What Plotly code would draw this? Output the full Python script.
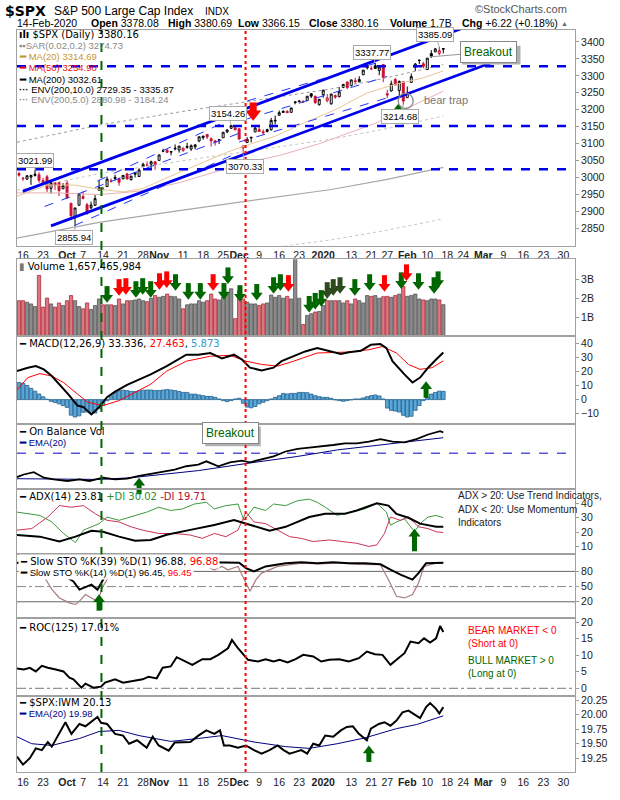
import plotly.graph_objects as go

# ---------------- data ----------------
month_days = [
    ("2019-09", [13, 16, 17, 18, 19, 20, 23, 24, 25, 26, 27, 30]),
    ("2019-10", [1, 2, 3, 4, 7, 8, 9, 10, 11, 14, 15, 16, 17, 18, 21, 22, 23, 24, 25, 28, 29, 30, 31]),
    ("2019-11", [1, 4, 5, 6, 7, 8, 11, 12, 13, 14, 15, 18, 19, 20, 21, 22, 25, 26, 27, 29]),
    ("2019-12", [2, 3, 4, 5, 6, 9, 10, 11, 12, 13, 16, 17, 18, 19, 20, 23, 24, 26, 27, 30, 31]),
    ("2020-01", [2, 3, 6, 7, 8, 9, 10, 13, 14, 15, 16, 17, 21, 22, 23, 24, 27, 28, 29, 30, 31]),
    ("2020-02", [3, 4, 5, 6, 7, 10, 11, 12, 13, 14]),
]
dates = [f"{m}-{d:02d}" for m, ds in month_days for d in ds]

opens = [3012.21, 2996.41, 2995.67, 3001.50, 3010.36, 3008.42, 2983.50, 3002.43, 2968.35, 2985.73, 2985.47, 2967.07,
         2983.69, 2924.78, 2885.38, 2918.56, 2944.23, 2920.40, 2911.10, 2918.55, 2963.07, 2965.81, 2973.61, 2989.68,
         3000.77, 2996.84, 2996.48, 3010.73, 2994.01, 3014.78, 3003.32, 3032.12, 3035.39, 3039.74, 3046.90,
         3050.72, 3078.96, 3080.80, 3075.10, 3087.02, 3081.25, 3080.33, 3089.28, 3084.18, 3090.75, 3107.92, 3117.91,
         3127.45, 3114.66, 3108.49, 3111.41, 3117.44, 3134.85, 3145.49, 3147.18,
         3143.85, 3087.41, 3103.50, 3119.21, 3134.62, 3141.86, 3135.36, 3135.75, 3141.23, 3166.65, 3183.63, 3195.40,
         3195.21, 3192.32, 3223.33, 3226.05, 3225.45, 3227.20, 3247.23, 3240.09, 3215.18,
         3244.67, 3226.36, 3217.55, 3241.86, 3238.59, 3266.03, 3281.81, 3271.13, 3285.35, 3282.27, 3302.97, 3323.66,
         3321.03, 3330.02, 3315.77, 3333.10, 3247.16, 3255.35, 3289.46, 3256.45, 3282.33,
         3235.66, 3280.61, 3324.91, 3344.92, 3335.54, 3318.28, 3365.87, 3370.50, 3365.90, 3378.08]
highs = [3017.33, 3002.19, 3006.21, 3007.83, 3021.99, 3016.37, 2999.15, 3007.98, 2989.82, 2987.28, 2987.31, 2983.85,
         2992.53, 2924.78, 2911.13, 2952.86, 2959.75, 2925.47, 2929.32, 2948.46, 2993.28, 2972.84, 3003.28, 2997.54,
         3008.29, 3000.00, 3007.33, 3014.57, 3004.78, 3016.07, 3027.39, 3044.08, 3047.87, 3050.10, 3046.90,
         3066.95, 3085.20, 3083.95, 3078.34, 3097.77, 3093.09, 3088.33, 3102.61, 3098.06, 3098.20, 3120.46, 3124.17,
         3127.64, 3118.97, 3110.11, 3112.87, 3133.83, 3142.69, 3154.26, 3150.30,
         3144.31, 3094.97, 3119.38, 3119.45, 3150.60, 3148.87, 3142.12, 3143.98, 3176.28, 3182.68, 3197.71, 3198.22,
         3198.48, 3205.48, 3225.65, 3227.78, 3226.43, 3240.08, 3247.93, 3240.92, 3231.72,
         3258.14, 3246.15, 3246.84, 3244.91, 3267.07, 3275.58, 3282.99, 3288.13, 3294.25, 3298.66, 3317.11, 3329.88,
         3329.79, 3337.77, 3326.88, 3333.18, 3258.85, 3285.78, 3293.47, 3285.91, 3282.33,
         3268.44, 3306.92, 3337.58, 3347.96, 3341.42, 3352.26, 3375.63, 3381.47, 3385.09, 3380.69]
lows = [3002.90, 2990.67, 2993.73, 2978.57, 3003.16, 2984.68, 2982.23, 2957.73, 2952.86, 2963.71, 2945.53, 2967.07,
        2938.70, 2874.93, 2855.94, 2918.56, 2935.68, 2892.66, 2907.41, 2917.12, 2963.07, 2962.94, 2973.61, 2985.20,
        2991.79, 2976.31, 2995.35, 2995.04, 2991.21, 3000.42, 3001.94, 3032.12, 3034.81, 3025.96, 3023.19,
        3050.72, 3074.87, 3072.15, 3065.89, 3080.23, 3073.58, 3075.82, 3084.73, 3078.80, 3083.26, 3104.60, 3112.06,
        3113.47, 3091.41, 3094.55, 3099.26, 3117.44, 3131.00, 3143.41, 3139.34,
        3110.78, 3070.33, 3102.53, 3103.76, 3134.62, 3135.46, 3126.09, 3133.21, 3138.47, 3156.51, 3183.63, 3191.03,
        3191.14, 3192.32, 3216.03, 3222.30, 3220.51, 3227.20, 3234.37, 3216.57, 3212.03,
        3235.53, 3222.34, 3214.64, 3232.43, 3236.67, 3263.67, 3260.86, 3268.43, 3277.19, 3280.69, 3302.82, 3318.86,
        3316.61, 3320.04, 3301.87, 3281.53, 3234.50, 3253.22, 3271.89, 3242.80, 3214.68,
        3235.66, 3280.61, 3313.75, 3334.39, 3322.12, 3317.77, 3352.72, 3369.72, 3360.52, 3366.15]
closes = [3007.39, 2997.96, 3005.70, 3006.73, 3006.79, 2992.07, 2991.78, 2966.60, 2984.87, 2977.62, 2961.79, 2976.74,
          2940.25, 2887.61, 2910.63, 2952.01, 2938.79, 2893.06, 2919.40, 2938.13, 2970.27, 2966.15, 2995.68, 2989.69,
          2997.95, 2986.20, 3006.72, 2995.99, 3004.52, 3010.29, 3022.55, 3039.42, 3036.89, 3046.77, 3037.56,
          3066.91, 3078.27, 3074.62, 3076.78, 3085.18, 3093.08, 3087.01, 3091.84, 3094.04, 3096.63, 3120.46, 3122.03,
          3120.18, 3108.46, 3103.54, 3110.29, 3133.64, 3140.52, 3153.63, 3140.98,
          3113.87, 3093.20, 3112.76, 3117.43, 3145.91, 3135.96, 3132.52, 3141.63, 3168.57, 3168.80, 3191.45, 3192.52,
          3191.14, 3205.37, 3221.22, 3224.01, 3223.38, 3239.91, 3240.02, 3221.29, 3230.78,
          3257.85, 3234.85, 3246.28, 3237.18, 3253.05, 3274.70, 3265.35, 3288.13, 3283.15, 3289.29, 3316.81, 3329.62,
          3320.79, 3321.75, 3325.54, 3295.47, 3243.63, 3276.24, 3273.40, 3283.66, 3225.52,
          3248.92, 3297.59, 3334.69, 3345.78, 3327.71, 3352.09, 3357.75, 3379.45, 3373.94, 3380.16]
prior_close = 3009.57

volume_b = [1.87, 1.87, 1.79, 1.70, 1.56, 3.21, 1.53, 2.01, 1.70, 1.53, 1.75, 1.61,
            1.87, 2.14, 1.87, 1.56, 1.44, 1.75, 1.41, 1.61, 1.96, 1.65, 1.65, 1.65, 1.61, 1.96, 1.70, 1.87, 1.87,
            1.91, 1.96, 1.87, 1.82, 2.00, 2.14,
            2.05, 2.10, 2.22, 2.10, 2.08, 1.96, 1.44, 1.65, 1.70, 1.70, 1.87, 1.79, 1.87, 2.22, 1.96, 1.91, 2.05,
            2.22, 2.50, 0.92,
            2.40, 1.96, 1.79, 1.70, 1.70, 1.61, 1.70, 1.75, 2.17, 2.05, 2.14, 2.00, 2.10, 1.96, 4.40, 2.00, 0.61,
            1.09, 1.18, 1.27, 1.30,
            1.61, 1.87, 1.87, 1.87, 1.87, 1.75, 1.87, 1.70, 1.96, 1.87, 1.75, 2.14, 2.10, 2.14, 2.00, 2.08, 2.10,
            2.05, 2.14, 2.22, 2.62,
            2.10, 2.14, 2.22, 1.96, 1.91, 1.87, 1.96, 1.96, 1.91, 1.66]

tick_pos = [1, 6, 12, 16, 21, 26, 31, 35, 41, 46, 51, 55, 60, 65, 70, 76, 83, 88, 92, 97, 102, 107, 111, 116,
            121, 126, 131, 136]
tick_text = ["16", "23", "<b>Oct</b>", "7", "14", "21", "28", "<b>Nov</b>", "11", "18", "25", "<b>Dec</b>", "9",
             "16", "23", "<b>2020</b>", "13", "21", "27", "<b>Feb</b>", "10", "18", "24", "<b>Mar</b>", "9", "16",
             "23", "30"]

# overlays (trading-day index, value)
ma20_k = [-0.5, 7, 14, 20, 26, 31, 38, 45, 52, 58, 64, 71, 79, 87, 94, 101, 106]
ma20_v = [2945, 2978, 2978, 2966, 2958, 2968, 3005, 3040, 3075, 3100, 3122, 3160, 3200, 3250, 3275, 3294, 3314.69]
ma50_k = [-0.5, 10, 20, 30, 40, 50, 57, 65, 75, 89, 100, 106]
ma50_v = [2955, 2955, 2950, 2960, 2985, 3020, 3045, 3065, 3100, 3160, 3222, 3254.90]
ma200_k = [-0.5, 20, 40, 58, 78, 92, 106]
ma200_v = [2822, 2868, 2903, 2932, 2965, 2995, 3030]

hline_levels = [3025, 3152, 3328]
trend_k0 = [0.94, 8.0]
trend_v0 = [2959.5, 2858]
trend_k1 = [112.9, 119.0]
trend_v1 = [3449.5, 3343]
chan_k0 = [13.9, 6.4, 19.6, 55, 57, 57]
chan_v0 = [2859, 2915, 2990, 3105, 3173, 3226]
chan_k1 = [55, 56, 58, 92, 92, 89]
chan_v1 = [3075, 3135, 3200, 3235, 3298, 3337]

label_k = [4, 14, 53, 56, 89, 96, 105]
label_v = [3021.99, 2855.94, 3154.26, 3070.33, 3337.77, 3214.68, 3385.09]

macd_k = [-0.5, 2.2, 4.2, 6.2, 8.2, 10.1, 12.6, 14.6, 16.1, 18.1, 20.0, 22.0, 24.0, 27.0, 30.0, 32.9, 36.9, 38.9,
          41.8, 44.8, 47.8, 50.7, 53.7, 55.7, 57.7, 60.6, 63.6, 65.6, 68.6, 71.5, 74.5, 77.5, 80.4, 82.4, 85.4,
          87.9, 90.3, 91.8, 93.3, 96.3, 98.3, 100.2, 102.2, 104.2, 106]
macd_v = [20.2, 22.6, 23.8, 21.4, 16.7, 10.9, 2.8, -4.2, -5.3, -10.5, -5.3, 1.7, 5.6, 10.5, 14.4, 17.9, 23.7, 27.2,
          31.8, 31.8, 33.0, 29.1, 31.8, 28.4, 22.6, 20.7, 22.6, 27.2, 30.7, 34.1, 36.5, 34.1, 32.3, 33.5, 34.6,
          38.8, 39.3, 36.5, 27.2, 17.9, 12.1, 15.6, 22.6, 28.4, 33.336]
sig_k = [-0.5, 2.2, 5.2, 8.2, 11.1, 14.1, 17.1, 21.0, 25.0, 29.0, 32.9, 36.9, 41.8, 47.8, 52.7, 56.7, 60.6, 64.6,
         68.6, 74.5, 82.4, 87.4, 90.8, 94.3, 97.3, 100.2, 103.2, 106]
sig_v = [6.8, 15.6, 18.4, 16.7, 12.1, 5.1, -1.8, -4.2, -0.7, 5.1, 10.9, 20.2, 27.2, 30.7, 31.4, 27.2, 24.9, 23.7,
         27.2, 33.0, 33.7, 35.3, 37.6, 33.0, 24.9, 21.4, 22.6, 27.463]
hist_v = [12.1, 11.5, 10.0, 8.0, 6.0, 4.0, 2.0, 0.3, -1.2, -2.0, -3.0, -4.2, -5.5, -11.0, -12.3, -11.5, -9.0, -8.8,
          -10.0, -9.5, -6.5, -4.0, -0.8, 2.8, 5.0, 6.3, 6.7, 6.4, 5.8, 5.8, 6.3, 6.7, 6.8, 6.8, 6.4, 6.4, 6.8, 7.2,
          6.8, 6.4, 5.8, 5.1, 5.1, 3.9, 3.9, 3.3, 2.8, 2.3, 2.3, 1.6, 0.5, -0.7, -1.4, -0.7, 0.5, 1.0, -2.6, -5.3,
          -5.8, -4.9, -3.0, -1.9, -0.7, 0.5, 1.6, 2.8, 4.4, 4.0, 4.4, 4.4, 5.1, 5.1, 4.9, 3.9, 2.8, 2.1, 1.6, 1.6,
          0.9, -0.2, -0.7, -1.2, -0.7, -0.2, 0.5, 0.5, 1.2, 2.1, 2.8, 3.3, 2.6, 0.5, -6.0, -7.6, -8.1, -8.8,
          -11.1, -12.3, -11.8, -7.6, -4.2, -0.7, 1.6, 3.9, 5.1, 6.0, 5.873]

obv_k = [-0.5, 1.2, 3.7, 6.2, 8.7, 12.1, 15.1, 17.6, 21.0, 24.0, 27.0, 30.0, 32.9, 35.9, 38.9, 41.8, 44.8, 46.8,
         49.8, 52.7, 55.7, 57.7, 60.6, 63.6, 66.6, 69.6, 72.5, 75.5, 78.5, 81.4, 84.4, 87.4, 90.3, 93.3, 96.3,
         99.3, 102.2, 105.2, 106]
obv_v = [17.7, 21.7, 25.3, 16.7, 14.1, 11.7, 14.1, 11.7, 16.7, 14.1, 15.2, 19.7, 22.7, 25.8, 29.2, 34.4, 36.8,
         42.0, 34.4, 40.5, 42.9, 40.5, 44.4, 49.5, 57.1, 61.1, 63.2, 64.7, 67.1, 69.7, 69.7, 72.3, 76.2, 72.3,
         71.2, 76.2, 83.3, 88.3, 86.4]
obv_ema_k = [-0.5, 20.0, 28.0, 44.8, 57.7, 69.6, 79.5, 94.3, 106]
obv_ema_v = [15.2, 14.1, 16.7, 27.7, 39.4, 49.5, 59.5, 69.7, 78.3]
obv_level = 54.5

adx_k = [-0.5, 5.2, 10.1, 14.1, 18.1, 21.0, 25.0, 29.0, 32.9, 36.9, 42.8, 48.8, 53.7, 56.7, 62.6, 66.6, 72.5,
         76.5, 81.4, 84.4, 89.4, 92.3, 94.3, 97.3, 100.2, 104.2, 106]
adx_v = [18.0, 16.9, 13.5, 16.9, 21.0, 20.3, 16.9, 14.1, 14.6, 18.2, 21.6, 25.0, 28.4, 25.9, 21.0, 23.7, 30.5,
         32.7, 32.7, 35.0, 40.0, 38.4, 32.7, 30.0, 25.9, 23.7, 23.81]
pdi_k = [-0.5, 2.2, 5.2, 8.2, 11.1, 14.1, 16.1, 20.0, 22.0, 25.0, 29.0, 31.9, 34.9, 37.9, 40.8, 43.8, 46.8, 48.8,
         51.7, 54.7, 56.2, 58.7, 61.6, 63.6, 66.6, 69.6, 72.5, 74.5, 76.5, 79.5, 82.4, 86.4, 89.4, 91.8, 92.8,
         94.3, 96.3, 98.8, 100.2, 102.2, 104.2, 106]
pdi_v = [33.9, 32.7, 31.6, 27.1, 19.1, 12.8, 21.4, 25.9, 30.5, 28.2, 31.6, 33.9, 37.3, 35.0, 36.1, 39.5, 40.7,
         36.1, 38.4, 39.5, 28.2, 37.3, 35.0, 39.5, 38.4, 41.8, 42.9, 40.7, 37.3, 31.6, 33.9, 36.1, 40.0, 33.9,
         24.8, 27.1, 29.3, 20.3, 25.9, 30.5, 31.6, 30.02]
mdi_k = [-0.5, 3.2, 7.2, 10.1, 13.1, 16.1, 19.1, 22.0, 25.0, 28.0, 30.9, 34.9, 38.9, 42.8, 45.8, 48.8, 51.7,
         54.7, 56.7, 58.7, 61.6, 64.6, 67.6, 70.5, 73.5, 77.5, 81.4, 84.4, 87.4, 89.4, 91.3, 92.8, 95.3, 97.3,
         99.8, 102.2, 104.2, 106]
mdi_v = [21.4, 22.5, 30.5, 38.4, 37.3, 38.4, 32.7, 28.2, 27.1, 23.7, 21.4, 19.1, 19.1, 18.0, 15.7, 19.1, 16.9,
         21.4, 33.9, 27.1, 25.9, 21.4, 16.9, 15.7, 13.5, 14.6, 13.5, 12.3, 10.1, 11.2, 19.1, 30.5, 28.2, 30.5,
         23.7, 22.5, 20.3, 19.71]

sto39_k = [-0.5, 5, 9, 11.6, 13.6, 15.1, 18.1, 19.6, 21.0, 22.3, 24, 30, 40, 50, 55, 56.7, 58.7, 61.6, 64.6,
           66.6, 70.5, 74.5, 78.5, 82.4, 86.4, 90.3, 92.8, 95.3, 98.3, 99.8, 101.7, 104.2, 106]
sto39_v = [97, 96, 88, 70, 60.2, 44, 53.9, 44, 63.6, 84, 96, 98, 99, 98, 97, 86.5, 80, 89.8, 94, 96.3, 98.2, 96,
           98, 96, 96, 94, 83.7, 73.5, 63.7, 76.7, 96.3, 96, 96.88]
sto14_k = [-0.5, 3, 5.5, 6.2, 8.2, 10.1, 12.6, 14.1, 15.1, 16.6, 18.1, 19.6, 21.0, 23.0, 25, 30, 35, 40, 45, 48.8,
           50.7, 52.2, 54.7, 56.2, 57.7, 59.2, 60.6, 64.6, 70.5, 75, 80, 85, 90.3, 92.3, 94.3, 96.3, 98.3, 99.8,
           101.2, 104.2, 106]
sto14_v = [96, 97, 88, 70.2, 44.7, 27.6, 17.8, 14.7, 21.2, 34.3, 27.6, 21.2, 50.6, 76.7, 94, 97, 98, 98, 95, 83.3,
           89.8, 83.3, 89.8, 63.7, 40.8, 63.7, 76.7, 89.8, 96.3, 95, 97, 94, 93.1, 63.7, 31, 27.6, 34.3, 57.1, 89.8,
           96.3, 96.45]
sto_levels = [20, 50, 80]

roc_k = [-0.5, 1.2, 2.7, 4.2, 5.7, 7.2, 9.2, 11.1, 12.6, 13.6, 15.6, 16.6, 18.6, 20.5, 21.5, 24.0, 26.0, 28.5,
         30.9, 32.4, 34.4, 35.9, 37.9, 39.4, 40.8, 43.3, 45.8, 47.8, 49.8, 52.2, 53.2, 54.7, 57.2, 59.7, 61.6,
         63.6, 65.1, 67.1, 69.1, 71.0, 73.5, 75.5, 77.5, 80.0, 82.4, 84.9, 86.9, 88.9, 90.8, 92.8, 94.3, 96.3,
         97.8, 99.8, 101.2, 102.7, 104.2, 105.2, 106]
roc_v = [6.0, 5.7, 6.2, 5.1, 6.8, 6.2, 5.7, 5.1, 3.2, 2.7, 0.2, 1.4, 0.2, 0.5, 1.7, 2.7, 1.7, 2.2, 2.7, 3.5, 3.0,
         6.2, 6.6, 9.4, 8.6, 7.1, 8.8, 8.8, 10.1, 12.1, 14.6, 12.1, 8.6, 8.1, 8.8, 8.1, 8.6, 7.8, 8.8, 10.1, 9.6,
         8.1, 8.6, 8.8, 8.1, 9.1, 11.1, 10.3, 10.1, 7.1, 8.6, 10.6, 14.1, 13.6, 15.1, 13.8, 15.1, 18.8, 17.01]

ratio_k = [-0.5, 1.0, 2.7, 4.2, 5.7, 7.2, 8.2, 9.7, 11.6, 13.1, 15.1, 16.6, 18.6, 19.6, 20.5, 22.0, 24.0, 26.0,
           27.5, 29.5, 31.9, 33.4, 34.9, 37.4, 38.9, 40.8, 42.8, 44.8, 46.8, 48.8, 50.2, 51.2, 52.7, 54.7, 56.7,
           58.7, 60.6, 62.6, 64.6, 66.1, 67.6, 69.1, 70.5, 72.0, 73.5, 75.0, 76.5, 78.5, 80.4, 81.9, 83.4, 84.9,
           86.9, 87.9, 89.9, 91.3, 92.8, 94.3, 95.8, 97.3, 98.8, 100.2, 101.7, 102.7, 104.2, 105.0, 106]
ratio_v = [19.28, 19.14, 19.25, 19.42, 19.39, 19.53, 19.45, 19.64, 19.87, 19.67, 19.84, 19.80, 19.90, 19.96, 19.86,
           19.84, 19.67, 19.64, 19.50, 19.56, 19.43, 19.62, 19.47, 19.38, 19.52, 19.52, 19.53, 19.64, 19.73, 19.67,
           19.73, 19.47, 19.47, 19.43, 19.47, 19.39, 19.33, 19.39, 19.47, 19.39, 19.33, 19.36, 19.39, 19.33, 19.50,
           19.47, 19.64, 19.62, 19.73, 19.79, 19.80, 19.67, 19.56, 19.76, 19.84, 19.87, 19.81, 19.90, 20.04, 20.07,
           20.01, 19.94, 20.13, 20.20, 20.10, 20.02, 20.13]
ratio_ema_k = [-0.5, 3.2, 8.2, 15.1, 20.0, 25.0, 30.0, 37.9, 44.8, 50.7, 58.7, 66.6, 72.5, 79.5, 86.4, 94.3, 99.3, 106]
ratio_ema_v = [19.62, 19.50, 19.47, 19.59, 19.71, 19.73, 19.64, 19.54, 19.59, 19.64, 19.53, 19.45, 19.42, 19.50,
               19.60, 19.76, 19.83, 19.98]

# signal arrows (trading-day index, top of arrow in panel units, colour code)
vol_arrow_k = [22.0, 25.0, 26.7, 29.2, 30.9, 32.9, 35.1, 36.9, 39.1, 42.3, 45.3, 48.5, 52.2, 51.2, 55.2, 59.4,
               63.6, 65.3, 67.3, 69.6, 72.5, 74.0, 75.5, 77.0, 78.5, 80.2, 83.9, 87.6, 91.3, 95.5, 96.8, 99.8,
               103.7, 104.7]
vol_arrow_top = [2.55, 2.92, 2.97, 2.81, 2.97, 2.81, 3.23, 3.33, 3.18, 2.71, 2.71, 3.18, 3.54, 2.71, 2.60, 2.66,
                 3.02, 3.18, 3.13, 4.74, 2.03, 2.19, 2.34, 2.76, 2.92, 3.02, 2.92, 3.18, 3.13, 3.28, 3.70, 3.23,
                 3.02, 3.33]
vol_arrow_col = ["g", "r", "r", "g", "g", "g", "r", "r", "g", "g", "g", "r", "g", "g", "g", "g",
                 "g", "g", "r", "d", "g", "g", "g", "d", "d", "d", "g", "g", "r", "g", "r", "g", "g", "g"]

# ---------------- layout helpers ----------------
W, H = 620, 800
ML, MR, MT, MB = 17, 40, 30, 16
PW, PH = W - ML - MR, H - MT - MB
XR = [-0.5, 138.9]
FONT_T = "Liberation Sans"
FONT_L = "DejaVu Sans"

PANELS = [  # name, top px, bottom px, y range
    ("price", 30, 249, [2800, 3435]),
    ("vol", 263, 341, [0, 4.06]),
    ("macd", 341, 430, [-17, 45]),
    ("obv", 430, 496, [0, 100]),
    ("adx", 496, 562, [5.2, 50.2]),
    ("sto", 562, 628, [-13, 115.3]),
    ("roc", 628, 707, [-2.4, 21.1]),
    ("ratio", 707, 784, [19.013, 20.318]),
]
PIDX = {p[0]: i + 1 for i, p in enumerate(PANELS)}


def axes(name):
    i = PIDX[name]
    return ("x" if i == 1 else f"x{i}"), ("y" if i == 1 else f"y{i}")


def dpp(name):
    _, t, b, r = PANELS[PIDX[name] - 1]
    return (r[1] - r[0]) / (b - t)


fig = go.Figure()


def line(name, xs, ys, color, width=1.0, dash=None):
    xa, ya = axes(name)
    fig.add_trace(go.Scatter(x=xs, y=ys, mode="lines", xaxis=xa, yaxis=ya, hoverinfo="skip",
                             line=dict(color=color, width=width, dash=dash)))


def arrows(name, ks, tops, colors, direction, Ht=15, Wd=12, sw=5):
    xa, ya = axes(name)
    d = dpp(name)
    s = Wd / 1.155
    hh = 0.75 * s
    sl = Ht - hh + 1
    if direction == "down":
        shaft = [t - (sl / 2) * d for t in tops]
        head = [t - (Ht - 0.5 * s) * d for t in tops]
        sym = "triangle-down"
    else:
        head = [t - 0.5 * s * d for t in tops]
        shaft = [t - ((hh - 1 + Ht) / 2) * d for t in tops]
        sym = "triangle-up"
    fig.add_trace(go.Scatter(x=ks, y=shaft, mode="markers", xaxis=xa, yaxis=ya, hoverinfo="skip", cliponaxis=False,
                             marker=dict(symbol="line-ns", size=sl, color=colors, line=dict(color=colors, width=sw))))
    fig.add_trace(go.Scatter(x=ks, y=head, mode="markers", xaxis=xa, yaxis=ya, hoverinfo="skip", cliponaxis=False,
                             marker=dict(symbol=sym, size=s, color=colors, line=dict(width=0))))


def txt(px, py, s, size=10, color="#000", family=FONT_L, anchor="left", bg=None, pad=0):
    fig.add_annotation(x=(px - ML) / PW, y=(H - MB - py) / PH, xref="paper", yref="paper", text=s,
                       showarrow=False, xanchor=anchor, yanchor="middle",
                       font=dict(size=size, color=color, family=family),
                       bgcolor=bg if bg else "rgba(0,0,0,0)", borderpad=pad)


k = list(range(len(dates)))
prev = [prior_close] + closes[:-1]

# ---------------- price panel ----------------
env10_up = [v * 1.10 for v in ma200_v]
env5_up = [v * 1.05 for v in ma200_v]
env5_dn = [v * 0.95 for v in ma200_v]
line("price", ma200_k, env10_up, "#9a9a9a", 1, "dot")
line("price", ma200_k, env5_up, "#c4c4c4", 1, "dot")
line("price", ma200_k, env5_dn, "#c4c4c4", 1, "dot")
line("price", ma200_k, ma200_v, "#a8a8a8", 1.2)
line("price", ma50_k, ma50_v, "#e8b0b4", 1)
line("price", ma20_k, ma20_v, "#e8c698", 1)

for k0, v0, k1, v1 in zip(chan_k0, chan_v0, chan_k1, chan_v1):
    line("price", [k0, k1], [v0, v1], "#2233ff", 1, "dash")
for lv in hline_levels:
    line("price", XR, [lv, lv], "#0000ee", 2.5, "dash")
for k0, v0, k1, v1 in zip(trend_k0, trend_v0, trend_k1, trend_v1):
    line("price", [k0, k1], [v0, v1], "#0000ee", 2.8)

RED = "#cc1133"
cats = {
    ("hollow", "black"): ("#ffffff", "#000000"),
    ("hollow", "red"): ("#ffffff", RED),
    ("filled", "black"): ("#000000", "#000000"),
    ("filled", "red"): (RED, RED),
}
for (fill_kind, col), (fc, lc) in cats.items():
    sel = [i for i in k if (("hollow" if closes[i] >= opens[i] else "filled") == fill_kind and
                            ("red" if closes[i] < prev[i] else "black") == col)]
    if not sel:
        continue
    fig.add_trace(go.Candlestick(
        x=[k[i] for i in sel], open=[opens[i] for i in sel], high=[highs[i] for i in sel],
        low=[lows[i] for i in sel], close=[closes[i] for i in sel], whiskerwidth=0, hoverinfo="skip",
        increasing=dict(fillcolor=fc, line=dict(color=lc, width=1)),
        decreasing=dict(fillcolor=fc, line=dict(color=lc, width=1)),
        xaxis="x", yaxis="y"))

# bear trap circle
fig.add_trace(go.Scatter(x=[96.6], y=[3226], mode="markers", hoverinfo="skip", xaxis="x", yaxis="y",
                         marker=dict(symbol="circle-open", size=15, color="#888", line=dict(width=1.3))))

# price labels
label_off = [(0, -10), (-1, 11), (-3, -12), (2, 13), (-3, -11), (-3, 12), (-4, -12)]
for kk, vv, (ax, ay) in zip(label_k, label_v, label_off):
    fig.add_annotation(x=kk, y=vv, xref="x", yref="y", text=f"{vv:.2f}", showarrow=True, arrowhead=0,
                       arrowwidth=1, arrowcolor="#aaa", ax=ax, ay=ay, bgcolor="white", bordercolor="#aaa",
                       borderwidth=1, borderpad=1, font=dict(size=9.5, family=FONT_T, color="#000"))

# Breakout callouts
fig.add_shape(type="rect", xref="paper", yref="paper", x0=(466 - ML) / PW, x1=(525 - ML) / PW,
              y0=(H - MB - 65) / PH, y1=(H - MB - 46) / PH, fillcolor="#b0b0b0", line=dict(width=0), layer="above")
fig.add_annotation(x=102.5, y=3355.6, xref="x", yref="y", text="Breakout", showarrow=True, arrowhead=0,
                   arrowwidth=1, arrowcolor="#999", ax=59, ay=-5, bgcolor="white", bordercolor="#888",
                   borderwidth=1, borderpad=3, font=dict(size=12, family=FONT_T, color="#006600"))
fig.add_shape(type="rect", xref="paper", yref="paper", x0=(207 - ML) / PW, x1=(263 - ML) / PW,
              y0=(H - MB - 453) / PH, y1=(H - MB - 433) / PH, fillcolor="#b0b0b0", line=dict(width=0),
              layer="above")
fig.add_annotation(x=(232 - ML) / PW, y=(H - MB - 440) / PH, xref="paper", yref="paper", text="Breakout",
                   showarrow=False, xanchor="center", yanchor="middle", bgcolor="white", bordercolor="#888",
                   borderwidth=1, borderpad=3, font=dict(size=12, family=FONT_T, color="#006600"))
fig.add_annotation(x=100.7, y=3228, xref="x", yref="y", text="bear trap", showarrow=False, xanchor="left",
                   font=dict(size=11, family=FONT_T, color="#777"))

# arrows on price panel
arrows("price", [58.5], [3217], ["#ff0000"], "down", Ht=17, Wd=16, sw=7)
arrows("price", [94.7], [3217], ["#006600"], "up", Ht=16, Wd=14, sw=6)

# ---------------- volume ----------------
vcol = ["#d87880" if c < p else "#8c8c8c" for c, p in zip(closes, prev)]
vline = ["#b8283c" if c < p else "#555555" for c, p in zip(closes, prev)]
fig.add_trace(go.Bar(x=k, y=volume_b, width=0.82, xaxis="x2", yaxis="y2", hoverinfo="skip",
                     marker=dict(color=vcol, line=dict(color=vline, width=0.8))))
cmap = {"g": "#006600", "r": "#ff0000", "d": "#2c4a1c"}
arrows("vol", vol_arrow_k, vol_arrow_top, [cmap[c] for c in vol_arrow_col], "down")

# ---------------- MACD ----------------
fig.add_trace(go.Bar(x=k, y=hist_v, width=0.9, xaxis="x3", yaxis="y3", hoverinfo="skip",
                     marker=dict(color="#5aa6d6", line=dict(color="#24608c", width=0.8))))
line("macd", sig_k, sig_v, "#ff0000", 1)
line("macd", macd_k, macd_v, "#000000", 2)
arrows("macd", [101.7], [13.0], ["#006600"], "up")

# ---------------- OBV ----------------
line("obv", XR, [obv_level, obv_level], "#0000cc", 1, "dash")
line("obv", obv_ema_k, obv_ema_v, "#000080", 1)
line("obv", obv_k, obv_v, "#000000", 1.8)
arrows("obv", [30.0], [16.7], ["#006600"], "up")

# ---------------- ADX ----------------
line("adx", pdi_k, pdi_v, "#3c9a3c", 1)
line("adx", mdi_k, mdi_v, "#cc3355", 1)
line("adx", adx_k, adx_v, "#000000", 2)
arrows("adx", [98.8], [22.3], ["#006600"], "up", Ht=20)

# ---------------- STO ----------------
for lv in sto_levels:
    line("sto", XR, [lv, lv], "#888" if lv == 50 else "#666", 1, "dashdot" if lv == 50 else None)
line("sto", sto14_k, sto14_v, "#a87c7c", 1.2)
line("sto", sto39_k, sto39_v, "#000000", 2)
arrows("sto", [20.0], [34.9], ["#006600"], "up")

# ---------------- ROC ----------------
line("roc", XR, [0, 0], "#777", 1, "dashdot")
line("roc", roc_k, roc_v, "#000000", 2)

# ---------------- ratio ----------------
line("ratio", ratio_ema_k, ratio_ema_v, "#000080", 1)
line("ratio", ratio_k, ratio_v, "#000000", 2)
arrows("ratio", [87.4], [19.47], ["#006600"], "up")

# vertical markers
fig.add_shape(type="line", xref="x", yref="paper", x0=20.6, x1=20.6, y0=0, y1=1,
              line=dict(color="#006600", width=2, dash="dash"), layer="above")
fig.add_shape(type="line", xref="x", yref="paper", x0=56.6, x1=56.6, y0=0, y1=1,
              line=dict(color="#ff0000", width=2, dash="dot"), layer="above")

# ---------------- axes ----------------
lay = dict(width=W, height=H, margin=dict(l=ML, r=MR, t=MT, b=MB), plot_bgcolor="white",
           paper_bgcolor="white", showlegend=False, hovermode=False)
ytick_cfg = {
    "price": (list(range(2850, 3401, 50)), None),
    "vol": ([1, 2, 3], ["1B", "2B", "3B"]),
    "macd": ([-10, 0, 10, 20, 30, 40], None),
    "obv": ([], None),
    "adx": ([10, 20, 30, 40], None),
    "sto": ([20, 50, 80], None),
    "roc": ([0, 5, 10, 15, 20], None),
    "ratio": ([19.25, 19.5, 19.75, 20.0, 20.25], ["19.25", "19.50", "19.75", "20.00", "20.25"]),
}
for name, top, bot, rng in PANELS:
    i = PIDX[name]
    xk = "xaxis" if i == 1 else f"xaxis{i}"
    yk = "yaxis" if i == 1 else f"yaxis{i}"
    xa, ya = axes(name)
    xd = dict(domain=[0, 1], anchor=ya, range=XR, showgrid=False, zeroline=False, showline=True, mirror=True,
              linecolor="#a0a0a0", linewidth=1, tickmode="array", tickvals=tick_pos, ticktext=tick_text,
              ticks="", tickangle=0, showticklabels=name in ("price", "ratio"),
              tickfont=dict(size=10.5, family=FONT_T, color="#222"), rangeslider=dict(visible=False))
    if i > 1:
        xd["matches"] = "x"
    tv, tt = ytick_cfg[name]
    yd = dict(domain=[(H - MB - bot) / PH, (H - MB - top) / PH], anchor=xa, range=rng, side="right",
              showgrid=False, zeroline=False, showline=True, mirror=True, linecolor="#a0a0a0", linewidth=1,
              tickmode="array", tickvals=tv, ticks="outside", ticklen=3, tickcolor="#999",
              tickfont=dict(size=10.5, family=FONT_T, color="#222"), fixedrange=True)
    if tt:
        yd["ticktext"] = tt
    lay[xk] = xd
    lay[yk] = yd
fig.update_layout(**lay)

# ---------------- texts ----------------
txt(4, 11, "<b>$SPX</b>", 14, "#000", FONT_L)
txt(53, 11, "S&P 500 Large Cap Index", 12, "#000", FONT_T)
txt(206, 11, "INDX", 10, "#000", FONT_T)
txt(573, 9, "©StockCharts.com", 11, "#555", FONT_T, "right")
for px, s in [(16, "14-Feb-2020"), (91, "<b>Open</b> 3378.08"), (168, "<b>High</b> 3380.69"),
              (239, "<b>Low</b> 3366.15"), (311, "<b>Close</b> 3380.16"), (392, "<b>Volume</b> 1.7B"),
              (465, "<b>Chg</b> +6.22 (+0.18%)")]:
    txt(px, 23, s, 10.5, "#000", FONT_T)
txt(565, 23, "▲", 7, "#666", FONT_T)

DASH = "<b>━</b>"
txt(18, 35, "<b>ılı</b> $SPX (Daily) 3380.16", 10, "#000", FONT_L)
txt(18, 46, "▪▪SAR(0.02,0.2) 3274.73", 9.5, "#8a8a8a", FONT_T)
txt(18, 57, DASH + " MA(20) 3314.69", 9.5, "#c8962c", FONT_T)
txt(18, 68, DASH + " MA(50) 3254.90", 9.5, "#dd1111", FONT_T)
txt(18, 80, DASH + " MA(200) 3032.61", 9.5, "#000", FONT_T)
txt(18, 90, "<b>···</b> ENV(200,10.0) 2729.35 - 3335.87", 9.5, "#000", FONT_T)
txt(18, 101, "<b>···</b> ENV(200,5.0) 2880.98 - 3184.24", 9.5, "#8a8a8a", FONT_T)

txt(18, 270, "<span style='color:#777'>▮</span> Volume 1,657,465,984", 10, "#000", FONT_L)
txt(18, 349, DASH + " MACD(12,26,9) 33.336, <span style='color:#ff0000'>27.463</span>, "
    "<span style='color:#3399cc'>5.873</span>", 10, "#000", FONT_L)
txt(18, 437.7, DASH + " On Balance Vol", 10, "#000", FONT_L)
txt(18, 448.7, DASH + " EMA(20)", 9.5, "#000080", FONT_T)
txt(18, 504, DASH + " ADX(14) 23.81 <span style='color:#2e8b2e'>+DI 30.02</span> "
    "<span style='color:#b0103a'>-DI 19.71</span>", 10, "#000", FONT_L)
txt(18, 570.3, DASH + " Slow STO %K(39) %D(1) 96.88, <span style='color:#ff0000'>96.88</span>", 10, "#000",
    FONT_L, bg="white", pad=1)
txt(18, 580.8, DASH + " Slow STO %K(14) %D(1) 96.45, <span style='color:#ff0000'>96.45</span>", 9.5, "#000",
    FONT_T, bg="white", pad=1)
txt(18, 636.7, DASH + " ROC(125) 17.01%", 10, "#000", FONT_L)
txt(18, 713.3, DASH + " $SPX:IWM 20.13", 10, "#000", FONT_L)
txt(18, 724.3, DASH + " EMA(20) 19.98", 9.5, "#000080", FONT_T)

txt(461, 503.5, "ADX > 20: Use Trend Indicators,", 10, "#222", FONT_T)
txt(461, 517, "ADX < 20: Use Momentum", 10, "#222", FONT_T)
txt(461, 530, "Indicators", 10, "#222", FONT_T)
txt(471, 640, "BEAR MARKET < 0", 10, "#ff0000", FONT_T)
txt(471, 653, "(Short at 0)", 10, "#ff0000", FONT_T)
txt(471, 671, "BULL MARKET > 0", 10, "#006600", FONT_T)
txt(471, 684, "(Long at 0)", 10, "#006600", FONT_T)

fig.write_html("out.html",
               config={"displayModeBar": False, "staticPlot": True},
               post_script="document.body.style.margin='0px';document.body.style.padding='0px';"
                           "document.body.style.overflow='hidden';")
